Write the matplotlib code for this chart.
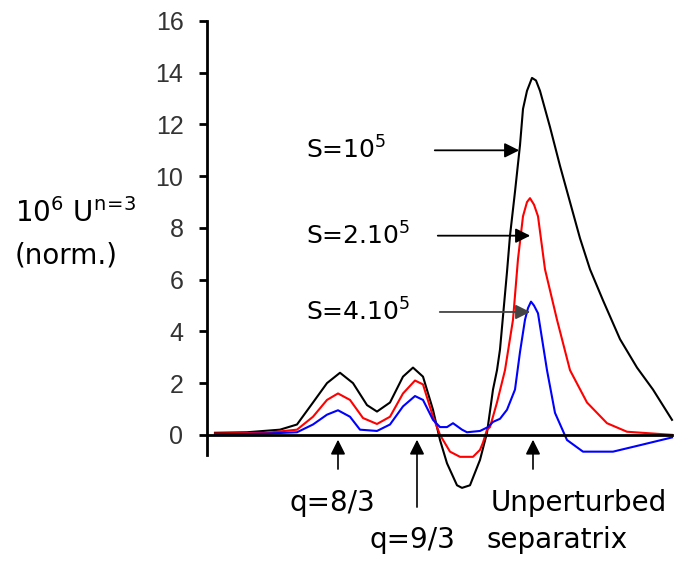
import matplotlib
matplotlib.use("Agg")
import matplotlib.pyplot as plt

plt.rcParams['font.family'] = ['DejaVu Sans']
plt.rcParams['mathtext.default'] = 'regular'

# radial position (arbitrary units) and mode amplitude
x_s1 = [8, 40, 73, 90, 106, 120, 133, 146, 160, 170, 183, 196, 206, 216, 226, 233,
        240, 250, 255, 263, 273, 280, 286, 290, 293, 300, 303, 308, 313, 316, 320, 325,
        329, 333, 343, 353, 363, 373, 383, 396, 413, 430, 446, 465]
u_s1 = [0.08, 0.1, 0.2, 0.4, 1.25, 2.0, 2.4, 2.0, 1.15, 0.9, 1.25, 2.25, 2.6, 2.25, 0.97, -0.2,
        -1.1, -1.95, -2.05, -1.95, -0.97, 0.08, 1.75, 2.5, 3.3, 6.3, 7.7, 9.4, 11.2, 12.6, 13.3, 13.8,
        13.7, 13.3, 11.9, 10.4, 9.0, 7.6, 6.4, 5.2, 3.7, 2.6, 1.75, 0.58]

x_s2 = [8, 60, 90, 106, 120, 131, 143, 156, 170, 183, 196, 208, 216, 226, 233, 243,
        253, 266, 273, 276, 280, 283, 290, 298, 306, 311, 316, 320, 323, 327, 331, 338, 350,
        363, 380, 400, 420, 465]
u_s2 = [0.05, 0.08, 0.2, 0.7, 1.35, 1.6, 1.35, 0.65, 0.42, 0.7, 1.6, 2.1, 1.95, 0.7, 0.0, -0.65,
        -0.85, -0.85, -0.58, -0.3, 0.2, 0.3, 1.25, 2.5, 4.45, 6.8, 8.45, 9.0, 9.15, 8.9, 8.45, 6.4, 4.45,
        2.5, 1.25, 0.45, 0.12, 0.0]

x_s4 = [8, 60, 90, 106, 120, 131, 143, 153, 170, 183, 196, 208, 216, 226, 233, 240,
        246, 255, 260, 273, 281, 286, 293, 300, 308, 313, 318, 321, 324, 327, 331, 340, 348,
        360, 376, 406, 433, 465]
u_s4 = [0.02, 0.05, 0.1, 0.4, 0.78, 0.95, 0.7, 0.2, 0.15, 0.4, 1.1, 1.5, 1.35, 0.58, 0.3, 0.3,
        0.45, 0.2, 0.1, 0.15, 0.3, 0.5, 0.62, 0.97, 1.75, 3.2, 4.45, 4.9, 5.15, 5.0, 4.7, 2.5, 0.85,
        -0.2, -0.65, -0.65, -0.4, -0.1]

labels = ['S=10$^5$', 'S=2.10$^5$', 'S=4.10$^5$']
label_y = [11.0, 7.7, 4.75]

# rational surfaces and separatrix marked under the axis
marks_x = [131, 210, 326]
marks_txt = ['q=8/3', 'q=9/3', 'Unperturbed']

fig = plt.figure(figsize=(6.8, 5.63), dpi=100)
ax = fig.add_axes([0.3044, 0.1918, 0.6956, 0.7709])

ax.plot(x_s1, u_s1, color='black', lw=1.5, clip_on=False)
ax.plot(x_s2, u_s2, color='red', lw=1.5, clip_on=False)
ax.plot(x_s4, u_s4, color='blue', lw=1.5, clip_on=False)
ax.axhline(0, xmax=465 / 473, color='black', lw=2)

ax.set_xlim(0, 473)
ax.set_ylim(-0.78, 16)
ax.set_yticks(range(0, 17, 2))
ax.set_xticks([])
for s in ['top', 'right', 'bottom']:
    ax.spines[s].set_visible(False)
ax.spines['left'].set_linewidth(2)
ax.tick_params(axis='y', length=6, width=2, labelsize=18, labelcolor='#333333', pad=11)
for t in ax.get_yticklabels():
    t.set_fontfamily('Liberation Sans')

# curve labels with arrows
tails = [225, 228, 230]
tips = [315, 326, 326]
arrow_cols = ['black', 'black', '#444444']
for lab, yy, t0, t1, c in zip(labels, label_y, tails, tips, arrow_cols):
    ax.text(99, yy, lab, fontsize=18, va='center', ha='left')
    ax.annotate('', xy=(t1, yy), xytext=(t0, yy),
                arrowprops=dict(arrowstyle='-|>', color=c, lw=1.3, mutation_scale=22))

# up arrows under the axis
tail_y = [-1.43, -2.9, -1.43]
for mx, ty in zip(marks_x, tail_y):
    ax.annotate('', xy=(mx, -0.08), xytext=(mx, ty), annotation_clip=False,
                arrowprops=dict(arrowstyle='-|>', color='black', lw=1.2, mutation_scale=22))

ax.text(125, -2.64, marks_txt[0], fontsize=20, ha='center', va='center', clip_on=False)
ax.text(205, -4.07, marks_txt[1], fontsize=20, ha='center', va='center', clip_on=False)
ax.text(372, -2.64, marks_txt[2], fontsize=20, ha='center', va='center', clip_on=False)
ax.text(280, -4.07, 'separatrix', fontsize=20, ha='left', va='center', clip_on=False)

fig.text(15 / 680, 1 - 213 / 563, r'10$^6$ U$^{n\!=\!3}$', fontsize=20, ha='left', va='center')
fig.text(15 / 680, 1 - 255 / 563, '(norm.)', fontsize=20, ha='left', va='center')

fig.savefig('out.png', dpi=100)
